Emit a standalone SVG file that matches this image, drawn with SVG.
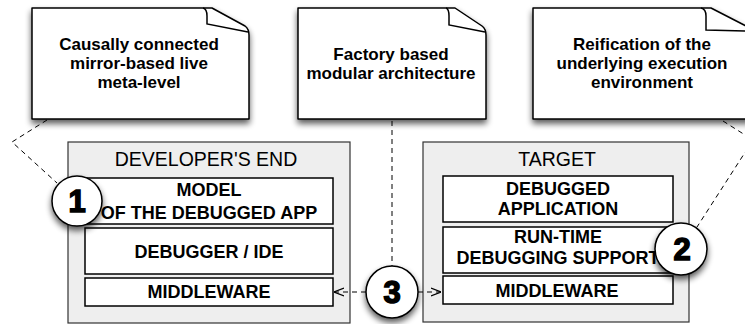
<svg xmlns="http://www.w3.org/2000/svg" width="745" height="324" viewBox="0 0 745 324">
<defs>
<filter id="sh" x="-20%" y="-20%" width="140%" height="150%">
<feGaussianBlur in="SourceAlpha" stdDeviation="3"/>
<feOffset dx="0" dy="4" result="b"/>
<feComponentTransfer><feFuncA type="linear" slope="0.65"/></feComponentTransfer>
<feMerge><feMergeNode/><feMergeNode in="SourceGraphic"/></feMerge>
</filter>
<marker id="arr" viewBox="0 0 10 10" refX="10" refY="5" markerWidth="10" markerHeight="10" markerUnits="userSpaceOnUse" orient="auto">
<path d="M0,1 L10,5 L0,9" fill="none" stroke="#000" stroke-width="1.2"/>
</marker>
<style>
.note{fill:#fff;stroke:#000;stroke-width:1.5;stroke-linejoin:round}
.fold{fill:none;stroke:#000;stroke-width:1.5}
.nt{font-family:"Liberation Sans",Arial,sans-serif;font-weight:bold;font-size:17px;text-anchor:middle;fill:#000}
.cont{fill:#eeeeee;stroke:#333;stroke-width:1.2}
.ct{font-family:"Liberation Sans",Arial,sans-serif;font-size:19.5px;text-anchor:middle;fill:#000}
.box{fill:#fff;stroke:#000;stroke-width:1.5}
.bt{font-family:"Liberation Sans",Arial,sans-serif;font-weight:bold;font-size:18px;text-anchor:middle;fill:#000}
.dash{fill:none;stroke:#000;stroke-width:1;stroke-dasharray:5,4}
.circ{fill:#fff;stroke:#000;stroke-width:1.5}
.num{font-family:"Liberation Sans",Arial,sans-serif;font-weight:bold;font-size:31px;text-anchor:middle;fill:#000;stroke:#000;stroke-width:1.5}
</style>
</defs>

<g id="note1">
<path class="note" filter="url(#sh)" d="M32,8 H212 L245,26 Q249,29 249,35 V119 H32 Z"/>
<path class="fold" d="M203,8 Q207,9 207,16 V24 L248,32"/>
<text class="nt" x="139" y="50">Causally connected</text>
<text class="nt" x="139" y="69">mirror-based live</text>
<text class="nt" x="139" y="88">meta-level</text>
</g>

<g id="note2">
<path class="note" filter="url(#sh)" d="M298,8 H455 L482,26 Q486,29 486,35 V119 H298 Z"/>
<path class="fold" d="M446,8 Q449,9 449,16 V25 L485,32"/>
<text class="nt" x="391" y="60">Factory based</text>
<text class="nt" x="391" y="79">modular architecture</text>
</g>

<g id="note3">
<path class="note" filter="url(#sh)" d="M533,8 H711 L746,26 Q751,29 751,35 V119 H533 Z"/>
<path class="fold" d="M701,8 Q706,9 706,16 V30 L750,31"/>
<text class="nt" x="642" y="50">Reification of the</text>
<text class="nt" x="642" y="69">underlying execution</text>
<text class="nt" x="642" y="88">environment</text>
</g>

<g id="developers-end">
<rect class="cont" x="68" y="142" width="282" height="181"/>
<text class="ct" x="206" y="166">DEVELOPER'S END</text>
</g>
<g id="model">
<rect class="box" x="85" y="178" width="248" height="46"/>
<text class="bt" x="209" y="196">MODEL</text>
<text class="bt" x="209" y="219">OF THE DEBUGGED APP</text>
</g>
<g id="debugger">
<rect class="box" x="85" y="228" width="248" height="46"/>
<text class="bt" x="209" y="258">DEBUGGER / IDE</text>
</g>
<g id="middleware-left">
<rect class="box" x="85" y="278" width="248" height="28"/>
<text class="bt" x="209" y="298">MIDDLEWARE</text>
</g>

<g id="target">
<rect class="cont" x="423" y="142" width="266" height="180"/>
<text class="ct" x="557" y="166">TARGET</text>
</g>
<g id="debugged-app">
<rect class="box" x="443" y="176" width="230" height="46"/>
<text class="bt" x="558" y="195">DEBUGGED</text>
<text class="bt" x="558" y="215">APPLICATION</text>
</g>
<g id="runtime">
<rect class="box" x="443" y="227" width="230" height="46"/>
<text class="bt" x="558" y="243">RUN-TIME</text>
<text class="bt" x="558" y="264">DEBUGGING SUPPORT</text>
</g>
<g id="middleware-right">
<rect class="box" x="443" y="276" width="230" height="28"/>
<text class="bt" x="557" y="297">MIDDLEWARE</text>
</g>

<g id="connectors">
<polyline class="dash" points="47,120 12,142 57,183"/>
<polyline class="dash" points="723,121 753,140 697,227"/>
<line class="dash" x1="392" y1="121" x2="392" y2="266"/>
<line class="dash" x1="366" y1="292" x2="334" y2="292" marker-end="url(#arr)"/>
<line class="dash" x1="418" y1="292" x2="441" y2="292" stroke-dasharray="11,2,9" marker-end="url(#arr)"/>
</g>

<g id="c1">
<circle class="circ" filter="url(#sh)" cx="77" cy="201" r="25"/>
<text class="num" x="77" y="212">1</text>
</g>
<g id="c2">
<circle class="circ" filter="url(#sh)" cx="681" cy="249" r="26"/>
<text class="num" x="682" y="260">2</text>
</g>
<g id="c3">
<circle class="circ" filter="url(#sh)" cx="392" cy="292" r="26"/>
<text class="num" x="392" y="303">3</text>
</g>
</svg>
